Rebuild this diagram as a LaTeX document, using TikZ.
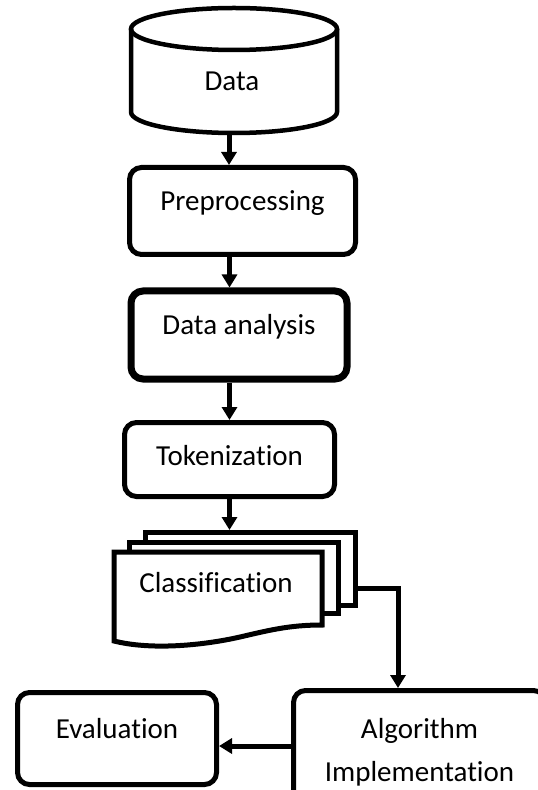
\documentclass[tikz,border=0pt]{standalone}
\usepackage{fontspec}
\setmainfont{Carlito}[Ligatures=NoCommon]
\usetikzlibrary{arrows.meta}

\begin{document}
\begin{tikzpicture}[x=0.5pt,y=0.5pt,font=\fontsize{14.5}{21.5}\selectfont,
  box/.style={draw, line width=2.5pt, rounded corners=6pt, inner sep=0pt},
  lifted/.style={box, text height=10pt, text depth=10pt},
  arr/.style={line width=2.5pt, -{Triangle[length=6.5pt,width=7.5pt]}}]
\useasboundingbox (0,0) rectangle (537,-790);

\draw[line width=2.25pt] (131,-29) -- (131,-112) arc [start angle=180, end angle=360, x radius=103, y radius=21] -- (337,-29);
\draw[line width=2.25pt] (234,-29) ellipse [x radius=103, y radius=21];
\node (data) at (232,-81) {Data};
\coordinate (databot) at (229,-133);

\node[lifted, minimum width=113pt, minimum height=43.5pt] (prep) at (242.5,-211) {Preprocessing};
\node[lifted, line width=3.5pt, minimum width=108pt, minimum height=44pt] (ana) at (239,-335) {Data analysis};
\node[lifted, text depth=4pt, minimum width=105pt, minimum height=37pt] (tok) at (229.5,-459.5) {Tokenization};

\node[draw, fill=white, line width=2.5pt, minimum width=105pt, minimum height=36.5pt, inner sep=0pt] (cls) at (250.5,-569) {};
\draw[fill=white, line width=2.5pt] (129,-542) rectangle (338,-613);
\draw[fill=white, line width=2.5pt] (114,-552) -- (322,-552) -- (322,-625) .. controls (290,-625) and (270,-630) .. (240,-637) .. controls (200,-646) and (150,-650) .. (114,-641) -- cycle;
\node (clstxt) at (216,-583) {Classification};

\node[lifted, minimum width=99.5pt, minimum height=46pt] (eval) at (117,-738.5) {Evaluation};
\node[box, align=center, minimum width=126pt, minimum height=61.5pt] (algo) at (419.5,-752) {Algorithm\\Implementation};

\draw[arr] (databot) -- (databot |- prep.north);
\draw[arr] (prep.south -| tok.north) -- (ana.north -| tok.north);
\draw[arr] (ana.south -| tok.north) -- (tok.north);
\draw[arr] (tok.south) -- (tok.south |- cls.north);
\draw[arr] ([yshift=-9.5pt]cls.east) -| ([xshift=53.5pt]algo.north west);
\draw[arr] ([yshift=3pt]algo.west) -- ([yshift=3pt]algo.west -| eval.east);
\end{tikzpicture}
\end{document}
